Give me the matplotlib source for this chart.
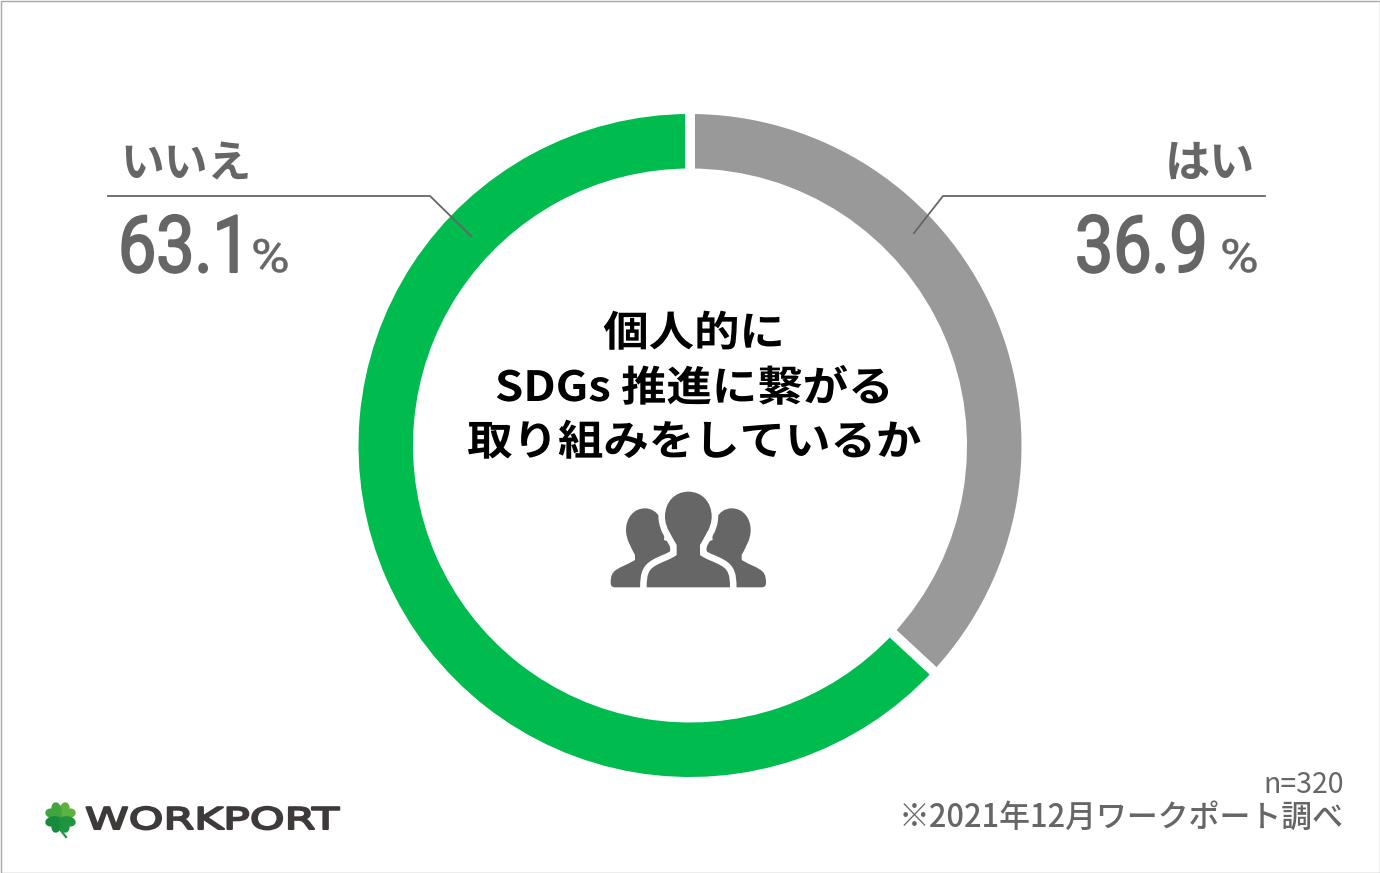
import matplotlib
matplotlib.use('Agg')
import matplotlib.pyplot as plt
import matplotlib.patheffects as pe
from matplotlib.patches import PathPatch, Rectangle
from matplotlib.path import Path
from matplotlib.transforms import Affine2D

plt.rcParams['font.family'] = ['Noto Sans CJK JP', 'DejaVu Sans']

# Data
categories = ['はい', 'いいえ']
shares = [36.9, 63.1]
colors = ['#999999', '#00BB4E']
title_lines = ['個人的に', 'SDGs 推進に繋がる', '取り組みをしているか']
sample_note = 'n=320'
source_note = '※2021年12月ワークポート調べ'
logo_name = 'WORKPORT'

W, H = 1380, 873
GREY = '#666666'


class Stretch(pe.AbstractPathEffect):
    # squeeze or widen a text around x0 (pixels), the text stays a text
    def __init__(self, k, x0, grow=0):
        super().__init__()
        self.k, self.x0, self.grow = k, x0, grow

    def draw_path(self, renderer, gc, tpath, affine, rgbFace=None):
        gc0 = renderer.new_gc()
        gc0.copy_properties(gc)
        gc0.set_linewidth(self.grow)
        gc0.set_foreground(rgbFace)
        t = affine + Affine2D().translate(-self.x0, 0).scale(self.k, 1).translate(self.x0, 0)
        renderer.draw_path(gc0, tpath, t, rgbFace)
        gc0.restore()


fig = plt.figure(figsize=(W / 100, H / 100), dpi=100)

# Donut, white edges make the gaps between the slices
cx, cy, r_out, r_in, gap = 690, 445.5, 331.5, 277, 10
R = r_out + gap / 2
ax_pie = fig.add_axes([(cx - R) / W, 1 - (cy + R) / H, 2 * R / W, 2 * R / H])
ax_pie.pie(shares, colors=colors, startangle=90, counterclock=False, radius=1,
           wedgeprops=dict(width=(r_out - r_in + gap) / R, edgecolor='white',
                           linewidth=gap * 0.72, joinstyle='miter'))
ax_pie.set_xlim(-1, 1)
ax_pie.set_ylim(-1, 1)

# Overlay in pixel coordinates of the picture
ax = fig.add_axes([0, 0, 1, 1])
ax.set_xlim(0, W)
ax.set_ylim(H, 0)
ax.axis('off')
ax.patch.set_alpha(0)

ax.add_patch(Rectangle((0.5, 0.5), W - 1, H - 1, fill=False, ec='#A8A8A8', lw=1.0))

# Leader lines
ax.plot([108, 430, 471], [196, 196, 236], color=GREY, lw=1.3, solid_joinstyle='miter')
ax.plot([1265, 943, 914], [196, 196, 233], color=GREY, lw=1.3, solid_joinstyle='miter')

# Labels
ax.text(120, 177, categories[1], fontsize=31.5, fontweight='bold', color=GREY, ha='left', va='baseline')
ax.text(1255, 177, categories[0], fontsize=32.5, fontweight='bold', color=GREY, ha='right', va='baseline')


def value_label(x_left, x_pct, value):
    ax.text(x_left, 272, f'{value:.1f}', fontsize=57, family='Roboto', color=GREY, va='baseline', ha='left',
            path_effects=[Stretch(0.86, x_left, 1.5)])
    ax.text(x_pct, 272, '%', fontsize=33, family='Roboto', color=GREY, va='baseline', ha='left',
            path_effects=[Stretch(1.15, x_pct, 0.4)])


value_label(118, 251, shares[1])
value_label(1075, 1220, shares[0])

# Centre title
for line, y in zip(title_lines, [346, 401, 455]):
    ax.text(694, y, line, fontsize=30, fontweight='bold', color='black', ha='center', va='baseline',
            path_effects=[Stretch(1.09, 694)])


# People icon, outlines taken from a crop at (590, 480) scaled 3x
def icon_path(verts, codes):
    return Path([(590 + x / 3, 480 + y / 3) for x, y in verts], codes)


C = Path.CURVE4
L = Path.LINETO
center_half = [(295, 35), (335, 35), (365, 65), (365, 110), (365, 145), (340, 175), (330, 195), (330, 225),
               (350, 240), (375, 245), (395, 258), (415, 270), (420, 285), (420, 322)]
center_verts = center_half + [(590 - x, y) for x, y in center_half[::-1]]
center_codes = [Path.MOVETO, C, C, C, C, C, C, L, C, C, C, C, C, C,
                L, C, C, C, C, C, C, L, C, C, C, C, C, C]
side_verts = [(165, 85), (130, 85), (108, 115), (108, 150), (108, 180), (125, 205), (135, 225), (135, 240),
              (110, 255), (85, 262), (72, 275), (62, 285), (62, 300), (62, 310), (62, 318), (68, 322), (75, 322),
              (280, 322), (280, 200), (222, 180), (228, 130), (205, 85), (165, 85)]
side_codes = [Path.MOVETO, C, C, C, C, C, C, L, C, C, C, C, C, C, C, C, C, L, L, L, C, C, C]

ax.add_patch(PathPatch(icon_path(side_verts, side_codes), fc=GREY, ec='none'))
ax.add_patch(PathPatch(icon_path([(590 - x, y) for x, y in side_verts], side_codes), fc=GREY, ec='none'))
center = icon_path(center_verts, center_codes)
ax.add_patch(PathPatch(center, fc=GREY, ec='white', lw=9.4, joinstyle='round'))
ax.add_patch(PathPatch(center, fc=GREY, ec='none'))
ax.add_patch(Rectangle((640, 587.6), 100, 8, fc='white', ec='none'))

# Notes
ax.text(1344, 793, sample_note, fontsize=20.5, color=GREY, ha='right', va='baseline')
ax.text(1344, 827, source_note, fontsize=22.2, fontweight='medium', color=GREY, ha='right', va='baseline')

# Logo: clover and name
heart = [(0, 0), (-6, 2), (-11, 8), (-10, 14), (-9, 19), (-3, 19), (0, 15), (3, 19), (9, 19), (10, 14),
         (11, 8), (6, 2), (0, 0)]
heart_codes = [Path.MOVETO] + [C] * 12
for angle, c in zip([-45, 45, -135, 135], ['#5DB13F', '#3FA63E', '#1F9440', '#168A3E']):
    t = Affine2D().scale(0.85).rotate_deg(angle).scale(1, -1).translate(60.5, 817.5)
    ax.add_patch(PathPatch(Path(heart, heart_codes).transformed(t), fc=c, ec='none'))
ax.plot([60.5, 60.5, 66], [818, 830, 837], color='#1F9440', lw=1.6)
ax.text(85, 829, logo_name, fontsize=21.5, family='DejaVu Sans', color='#3E3A39',
        ha='left', va='baseline', path_effects=[Stretch(1.48, 85, 1.5)])

fig.savefig('out.png', dpi=100, facecolor='white')
